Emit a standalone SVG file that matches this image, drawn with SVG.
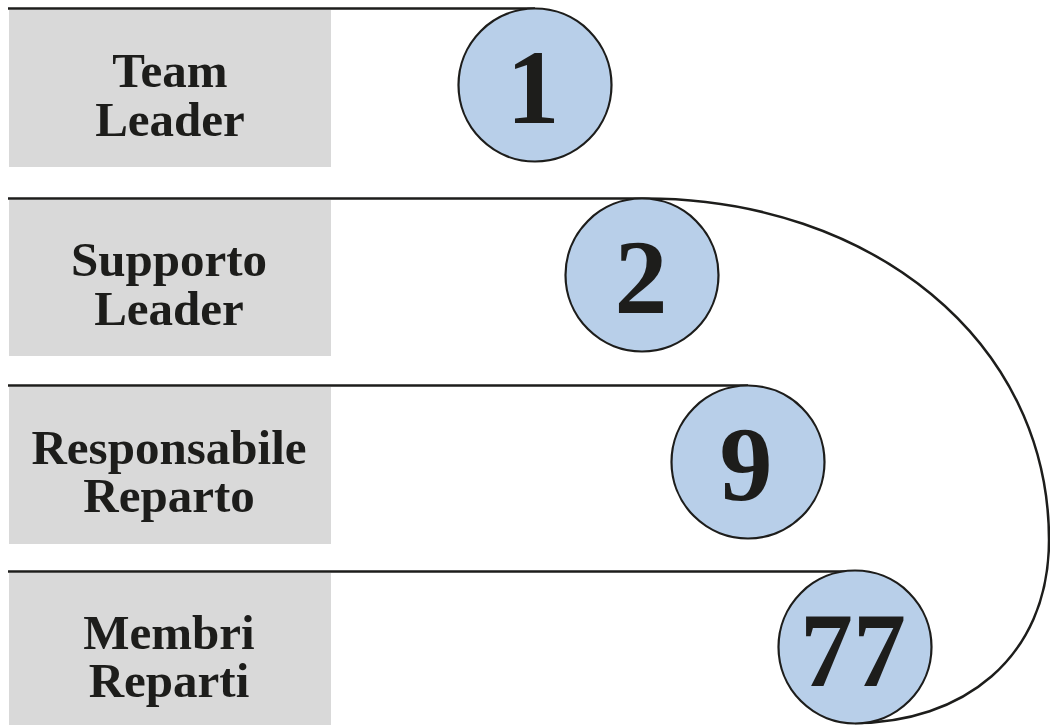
<svg xmlns="http://www.w3.org/2000/svg" width="1050" height="725" viewBox="0 0 1050 725">
<style>
.box{fill:#d9d9d9}
.lbl{font-family:"Liberation Serif","Times New Roman",serif;font-weight:bold;font-size:49px;fill:#1d1d1b;text-anchor:middle}
.num{font-family:"Liberation Serif","Times New Roman",serif;font-weight:bold;font-size:106px;fill:#1d1d1b;text-anchor:middle}
.ln{fill:none;stroke:#1d1d1b;stroke-width:2.5}
.c{fill:#b8cfe9;stroke:#1d1d1b;stroke-width:2.2}
</style>
<rect width="1050" height="725" fill="#ffffff"/>
<g id="connectors">
<path class="ln" d="M8,8.5 H535"/>
<path class="ln" d="M8,198.5 H645 C870,198.5 1049,340 1049,540 C1049,660 960,723 855,723"/>
<path class="ln" d="M8,385.5 H748"/>
<path class="ln" d="M8,571.5 H855"/>
</g>
<g id="row1">
<rect class="box" x="9" y="10" width="322" height="157"/>
<text class="lbl" x="170" y="87">Team</text>
<text class="lbl" x="170" y="136">Leader</text>
<circle class="c" cx="535" cy="85" r="76.5"/>
<text class="num" x="533" y="123">1</text>
</g>
<g id="row2">
<rect class="box" x="9" y="200" width="322" height="156"/>
<text class="lbl" x="169" y="276">Supporto</text>
<text class="lbl" x="169" y="325">Leader</text>
<circle class="c" cx="642" cy="275" r="76.5"/>
<text class="num" x="641" y="313">2</text>
</g>
<g id="row3">
<rect class="box" x="9" y="387" width="322" height="157"/>
<text class="lbl" x="169" y="464">Responsabile</text>
<text class="lbl" x="169" y="512">Reparto</text>
<circle class="c" cx="748" cy="462" r="76.5"/>
<text class="num" x="746" y="500">9</text>
</g>
<g id="row4">
<rect class="box" x="9" y="573" width="322" height="152"/>
<text class="lbl" x="169" y="649">Membri</text>
<text class="lbl" x="169" y="697">Reparti</text>
<circle class="c" cx="855" cy="647" r="76.5"/>
<text class="num" x="853" y="686">77</text>
</g>
</svg>
